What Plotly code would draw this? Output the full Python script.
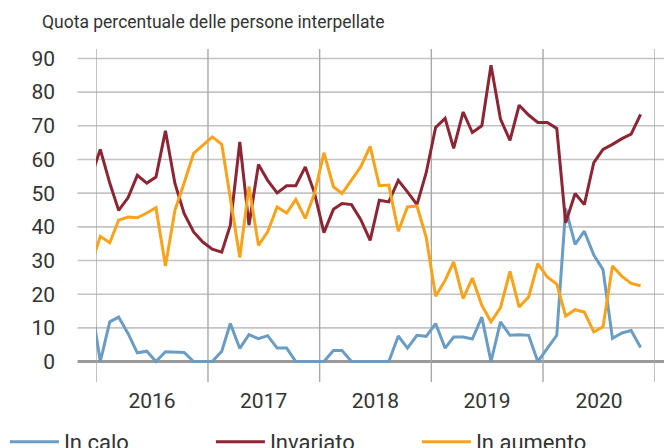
import pandas as pd
import plotly.graph_objects as go

# Monthly survey, Dec 2015 .. Nov 2020 (first point lies just left of the plotted range)
months = pd.date_range("2015-12-01", periods=60, freq="MS") + pd.Timedelta(days=14)

in_calo = [18,
           0, 11.8, 13.2, 8.3, 2.6, 3.1, 0, 2.9, 2.7, 2.7, 0, 0,
           0, 3.1, 11.3, 3.9, 8.0, 6.8, 7.7, 4.0, 4.0, 0, 0, 0,
           0, 3.3, 3.3, 0, 0, 0, 0, 0, 7.6, 4.0, 7.8, 7.5,
           11.3, 4.0, 7.3, 7.3, 6.7, 13.2, 0, 11.8, 7.8, 8.0, 7.8, 0,
           3.9, 7.8, 45.4, 34.8, 38.7, 31.6, 27.3, 6.9, 8.5, 9.2, 4.2]
invariato = [54.5,
             63.0, 53.0, 44.9, 48.7, 55.3, 53.0, 54.8, 68.5, 52.9, 44.0, 38.5, 35.5,
             33.4, 32.5, 40.5, 65.2, 40.5, 58.5, 53.8, 50.1, 52.2, 52.2, 57.8, 50.1,
             38.3, 45.2, 46.9, 46.6, 42.2, 36.0, 47.9, 47.4, 53.8, 50.4, 46.6, 56.0,
             69.5, 72.2, 63.3, 74.1, 68.0, 70.0, 88.0, 72.0, 65.7, 76.1, 73.2, 71.0,
             71.0, 69.2, 41.2, 49.9, 46.6, 59.1, 63.0, 64.5, 66.2, 67.5, 73.4]
in_aumento = [28.5,
              37.2, 35.3, 42.0, 42.9, 42.7, 44.1, 45.7, 28.4, 44.9, 53.0, 61.8, 64.2,
              66.7, 64.5, 48.0, 30.9, 52.0, 34.5, 38.5, 45.9, 44.1, 48.1, 42.5, 49.9,
              62.0, 51.9, 49.9, 53.8, 57.8, 63.9, 52.2, 52.4, 38.7, 45.9, 46.2, 37.0,
              19.4, 24.1, 29.6, 18.7, 24.8, 16.7, 11.8, 16.0, 26.8, 16.2, 19.2, 29.1,
              25.1, 23.0, 13.5, 15.4, 14.7, 8.8, 10.3, 28.4, 25.3, 23.2, 22.5]

series_names = ["In calo", "Invariato", "In aumento"]
series_colors = ["#6b9dc4", "#8c2634", "#f8a31b"]

year_labels = ["2016", "2017", "2018", "2019", "2020"]
year_bounds = ["2016-01-01", "2017-01-01", "2018-01-01", "2019-01-01", "2020-01-01", "2021-01-01"]
year_mids = ["2016-07-02", "2017-07-02", "2018-07-02", "2019-07-02", "2020-07-02"]
y_ticks = [0, 10, 20, 30, 40, 50, 60, 70, 80, 90]

FONT = "Roboto"
TXT = "#333333"

fig = go.Figure()
for name, vals, col in zip(series_names, [in_calo, invariato, in_aumento], series_colors):
    fig.add_trace(go.Scatter(x=months, y=vals, mode="lines", name=name,
                             line=dict(color=col, width=3)))

shapes = []
for v in y_ticks:
    shapes.append(dict(type="line", xref="paper", yref="y", x0=-0.033, x1=1.05, y0=v, y1=v,
                       line=dict(color="#9a9a9a" if v == 0 else "#c4c4c4", width=3 if v == 0 else 1.6),
                       layer="below"))
for b in year_bounds:
    shapes.append(dict(type="line", xref="x", yref="paper", x0=b, x1=b, y0=0, y1=1,
                       line=dict(color="#a8a8a8", width=1.4), layer="below"))

# page body adds an 8px offset, so the figure is laid out 8px up/left
fig.update_layout(
    width=672, height=448,
    margin=dict(l=87.5, r=25.4, t=40.7, b=74.3, autoexpand=False),
    paper_bgcolor="white", plot_bgcolor="rgba(0,0,0,0)",
    font=dict(family=FONT, color=TXT, size=21),
    title=dict(text="Quota percentuale delle persone interpellate", x=34/672, xanchor="left",
               y=1-14/448, yanchor="middle", font=dict(family=FONT, size=17.5, color=TXT)),
    shapes=shapes,
    showlegend=True,
    legend=dict(orientation="h", x=-0.163, xanchor="left", y=-0.18, yanchor="middle",
                font=dict(family=FONT, size=22, color=TXT), itemwidth=49,
                entrywidth=142, entrywidthmode="pixels",
                bgcolor="rgba(0,0,0,0)"),
    xaxis=dict(range=["2016-01-01", "2021-01-01"], tickvals=year_mids, ticktext=year_labels,
               showgrid=False, zeroline=False, showline=False, ticks="", automargin=False,
               ticklabelstandoff=4, tickfont=dict(size=21, color=TXT)),
    yaxis=dict(range=[-6.06, 92.8], tickvals=y_ticks, showgrid=False, zeroline=False,
               showline=False, ticks="", automargin=False,
               ticklabelstandoff=40, tickfont=dict(size=21, color=TXT)),
)

fig.write_html("out.html")
